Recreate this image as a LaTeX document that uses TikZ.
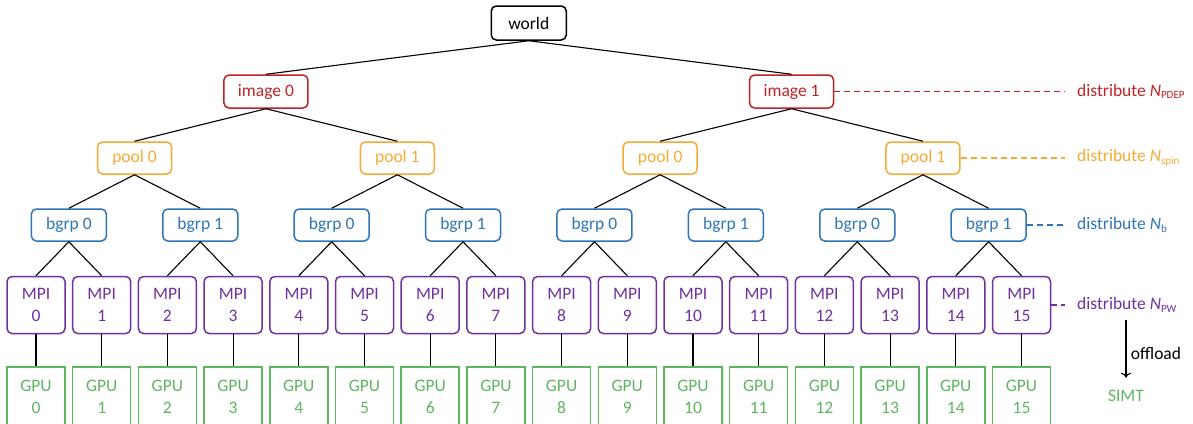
\documentclass[tikz,border=0pt]{standalone}
\usepackage{fontspec}
\setmainfont{Carlito}
\usetikzlibrary{arrows.meta}
\definecolor{imgred}{RGB}{192,34,40}
\definecolor{poolorange}{RGB}{246,170,52}
\definecolor{bgrpblue}{RGB}{46,117,182}
\definecolor{mpipurple}{RGB}{112,48,160}
\definecolor{gpugreen}{RGB}{92,182,94}
\newcommand{\lowtxt}[1]{\raisebox{-0.3ex}{\fontsize{11}{11}\selectfont #1}}
\tikzset{
	box/.style={draw,rounded corners=5pt,line width=1.5pt,inner sep=0pt,align=center},
	worldbox/.style={box,black,minimum width=75pt,minimum height=34pt},
	imgbox/.style={box,imgred,minimum width=84pt,minimum height=33pt},
	poolbox/.style={box,poolorange,minimum width=74pt,minimum height=32pt},
	bgrpbox/.style={box,bgrpblue,minimum width=75pt,minimum height=32pt},
	mpibox/.style={box,mpipurple,minimum width=58pt,minimum height=57pt},
	gpubox/.style={box,gpugreen,rounded corners=0pt,minimum width=58pt,minimum height=60pt},
	tree/.style={line width=1.1pt,black},
	dashline/.style={line width=1.2pt,dash pattern=on 6pt off 4pt,shorten >=12pt},
	distlabel/.style={anchor=west,inner sep=0pt}
}
\begin{document}
\begin{tikzpicture}[x=1pt,y=-1pt,font=\fontsize{17.5}{21.5}\selectfont]
	\useasboundingbox (0,0) rectangle (1193,423);
	\clip (0,0) rectangle (1193,423);
	%%%%%%%%%%%%%%%%%%%
	%      levels     %
	%%%%%%%%%%%%%%%%%%%
		\def\worldY{23}
		\def\imgY{91.5}
		\def\poolY{158}
		\def\bgrpY{225}
		\def\mpiY{305}
		\def\gpuY{397}
		\def\step{65.7}
		\def\startX{36}
	% world
		\node [worldbox] (world) at ({\startX+7.5*\step},\worldY) {world};
	% images
		\foreach \m in {0,1}
			{
				\node [imgbox] (img\m) at ({\startX+(3.5+8*\m)*\step},\imgY) {image \m};
				\draw [tree] (world.south) -- (img\m.north);
			}
	% pools
		\foreach \k in {0,...,3}
			{
				\pgfmathtruncatemacro\parent{int(\k/2)}
				\pgfmathtruncatemacro\lbl{mod(\k,2)}
				\node [poolbox] (pool\k) at ({\startX+(1.5+4*\k)*\step},\poolY) {pool \lbl};
				\draw [tree] (img\parent.south) -- (pool\k.north);
			}
	% band groups
		\foreach \j in {0,...,7}
			{
				\pgfmathtruncatemacro\parent{int(\j/2)}
				\pgfmathtruncatemacro\lbl{mod(\j,2)}
				\node [bgrpbox] (bgrp\j) at ({\startX+(0.5+2*\j)*\step},\bgrpY) {bgrp \lbl};
				\draw [tree] (pool\parent.south) -- (bgrp\j.north);
			}
	% MPI ranks and GPUs
		\foreach \i in {0,...,15}
			{
				\pgfmathtruncatemacro\parent{int(\i/2)}
				\node [mpibox] (mpi\i) at ({\startX+\i*\step},\mpiY) {MPI\\\i};
				\node [gpubox] (gpu\i) at ({\startX+\i*\step},\gpuY) {GPU\\\i};
				\draw [tree] (bgrp\parent.south) -- (mpi\i.north);
				\draw [tree] (mpi\i.south) -- (gpu\i.north);
			}
	%%%%%%%%%%%%%%%%%%%
	%   distribute    %
	%%%%%%%%%%%%%%%%%%%
		\node [distlabel,text=imgred] (dimg) at (1077,\imgY) {distribute \textit{N}\lowtxt{PDEP}};
		\draw [dashline,imgred] (img1.east) -- (dimg.west);
		\node [distlabel,text=poolorange] (dpool) at (1077,\poolY) {distribute \textit{N}\lowtxt{spin}};
		\draw [dashline,poolorange] (pool3.east) -- (dpool.west);
		\node [distlabel,text=bgrpblue] (dbgrp) at (1077,\bgrpY) {distribute \textit{N}\lowtxt{b}};
		\draw [dashline,bgrpblue] (bgrp7.east) -- (dbgrp.west);
		\node [distlabel,text=mpipurple] (dmpi) at (1077,\mpiY) {distribute \textit{N}\lowtxt{PW}};
		\draw [dashline,mpipurple] (mpi15.east) -- (dmpi.west);
	% offload
		\coordinate (offtop) at (1126,320);
		\node [text=gpugreen] (simt) at (1126,396) {SIMT};
		\draw [line width=1.1pt,-{To[length=5pt,width=10pt]},shorten >=9pt] (offtop) -- (simt.north)
			node [midway,right,black,xshift=1pt] {offload};
\end{tikzpicture}
\end{document}
